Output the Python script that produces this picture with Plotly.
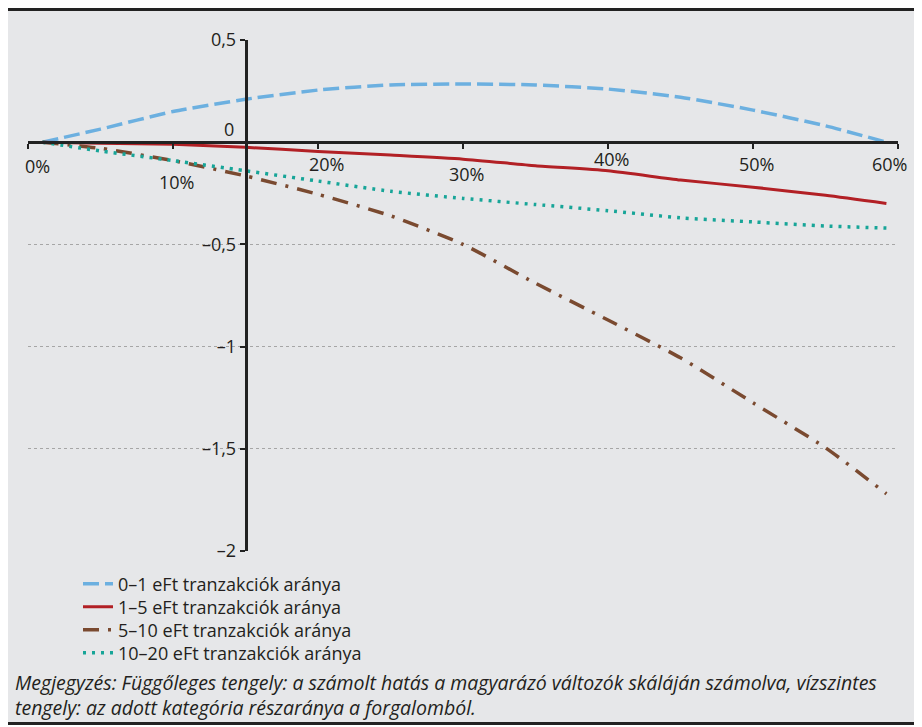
import plotly.graph_objects as go

# x: share of category in turnover (%)
x_pct = [1, 5, 10, 15, 20, 25, 30, 35, 40, 45, 50, 55, 59.2]

s_0_1 = [0.0, 0.064, 0.15, 0.21, 0.255, 0.28, 0.285, 0.28, 0.26, 0.22, 0.157, 0.08, 0.0]
s_1_5 = [0.0, -0.005, -0.01, -0.025, -0.045, -0.063, -0.083, -0.115, -0.14, -0.185, -0.22, -0.26, -0.30]
s_5_10 = [0.0, -0.03, -0.09, -0.165, -0.255, -0.36, -0.5, -0.69, -0.87, -1.055, -1.275, -1.495, -1.72]
s_10_20 = [0.0, -0.043, -0.09, -0.14, -0.19, -0.24, -0.275, -0.305, -0.335, -0.37, -0.39, -0.41, -0.42]

series_names = ["0–1 eFt tranzakciók aránya", "1–5 eFt tranzakciók aránya",
                "5–10 eFt tranzakciók aránya", "10–20 eFt tranzakciók aránya"]

x_tick_vals = [0, 10, 20, 30, 40, 50, 60]
x_tick_text = ["0%", "10%", "20%", "30%", "40%", "50%", "60%"]
x_tick_yshift = [-24, -40, -22, -32, -17, -22, -22]
x_tick_xshift = [9, 3, 8, 3, 3, 3, -9]

y_tick_vals = [0.5, -0.5, -1, -1.5, -2]
y_tick_text = ["0,5", "–0,5", "–1", "–1,5", "–2"]

FONT = "Open Sans"
BG = "#e6e7e9"
TXT = "#231f20"


def px(v):
    return (v - 28) / 870


def py(v):
    return (551 - v) / 511


fig = go.Figure()
styles = [
    dict(color="#6cb0e0", width=3.5, dash="16px,6px"),
    dict(color="#b22025", width=3, dash="solid"),
    dict(color="#7a4a30", width=3.5, dash="16px,9px,3px,9px"),
    dict(color="#17a598", width=3.5, dash="3px,6px"),
]
legend_ids = ["legend", "legend2", "legend3", "legend4"]
legend_rows = [584, 607, 630, 653]
for name, ys, st, lid in zip(series_names, [s_0_1, s_1_5, s_5_10, s_10_20], styles, legend_ids):
    fig.add_trace(go.Scatter(x=x_pct, y=ys, mode="lines", name=name, legend=lid,
                             line=dict(shape="spline", smoothing=0.6, **st)))

annotations = []
for v, t, ys, xs in zip(x_tick_vals, x_tick_text, x_tick_yshift, x_tick_xshift):
    annotations.append(dict(x=v, y=0, xref="x", yref="y", text=t, showarrow=False,
                            yshift=ys, xshift=xs, font=dict(family=FONT, size=18, color=TXT)))
annotations.append(dict(x=15, y=0, xref="x", yref="y", text="0", showarrow=False,
                        xanchor="right", xshift=-10, yshift=13,
                        font=dict(family=FONT, size=18, color=TXT)))
note = ("<i>Megjegyzés: Függőleges tengely: a számolt hatás a magyarázó változók skáláján számolva, vízszintes"
        "<br>tengely: az adott kategória részaránya a forgalomból.</i>")
annotations.append(dict(x=px(13), y=py(694.5), xref="paper", yref="paper",
                        xanchor="left", yanchor="middle", align="left", text=note, showarrow=False,
                        font=dict(family=FONT, size=19.5, color=TXT)))

shapes = [
    dict(type="rect", xref="paper", yref="paper", x0=px(0), x1=px(930),
         y0=py(723), y1=py(0), fillcolor=BG, line=dict(width=0), layer="below"),
    dict(type="line", xref="paper", yref="paper", x0=px(0), x1=px(930),
         y0=py(9.5), y1=py(9.5), line=dict(color="#222", width=3)),
    dict(type="line", xref="paper", yref="paper", x0=px(0), x1=px(930),
         y0=py(723.5), y1=py(723.5), line=dict(color="#222", width=3)),
]

layout_kw = {}
for lid, row in zip(legend_ids, legend_rows):
    layout_kw[lid] = dict(x=px(78), y=py(row), xanchor="left", yanchor="middle",
                          bgcolor="rgba(0,0,0,0)", font=dict(family=FONT, size=18, color=TXT),
                          itemwidth=30)

fig.update_layout(
    width=914, height=719,
    margin=dict(l=20, r=24, t=32, b=176),
    paper_bgcolor="white", plot_bgcolor="rgba(0,0,0,0)",
    showlegend=True,
    xaxis=dict(range=[0, 60], anchor="free", position=0.8, showgrid=False, zeroline=False,
               showline=True, linecolor="#222", linewidth=2.5,
               tickvals=x_tick_vals, ticks="outside", ticklen=5, tickwidth=2, tickcolor="#222",
               showticklabels=False),
    yaxis=dict(range=[-2, 0.5], anchor="free", position=0.25, showgrid=True,
               gridcolor="#a6a6a6", griddash="dot", gridwidth=1, zeroline=False,
               showline=True, linecolor="#222", linewidth=2.5,
               tickvals=y_tick_vals, ticktext=y_tick_text, ticks="outside", ticklen=5,
               tickwidth=2, tickcolor="#222",
               tickfont=dict(family=FONT, size=18, color=TXT)),
    annotations=annotations, shapes=shapes,
    **layout_kw,
)

fig.write_html("out.html")
